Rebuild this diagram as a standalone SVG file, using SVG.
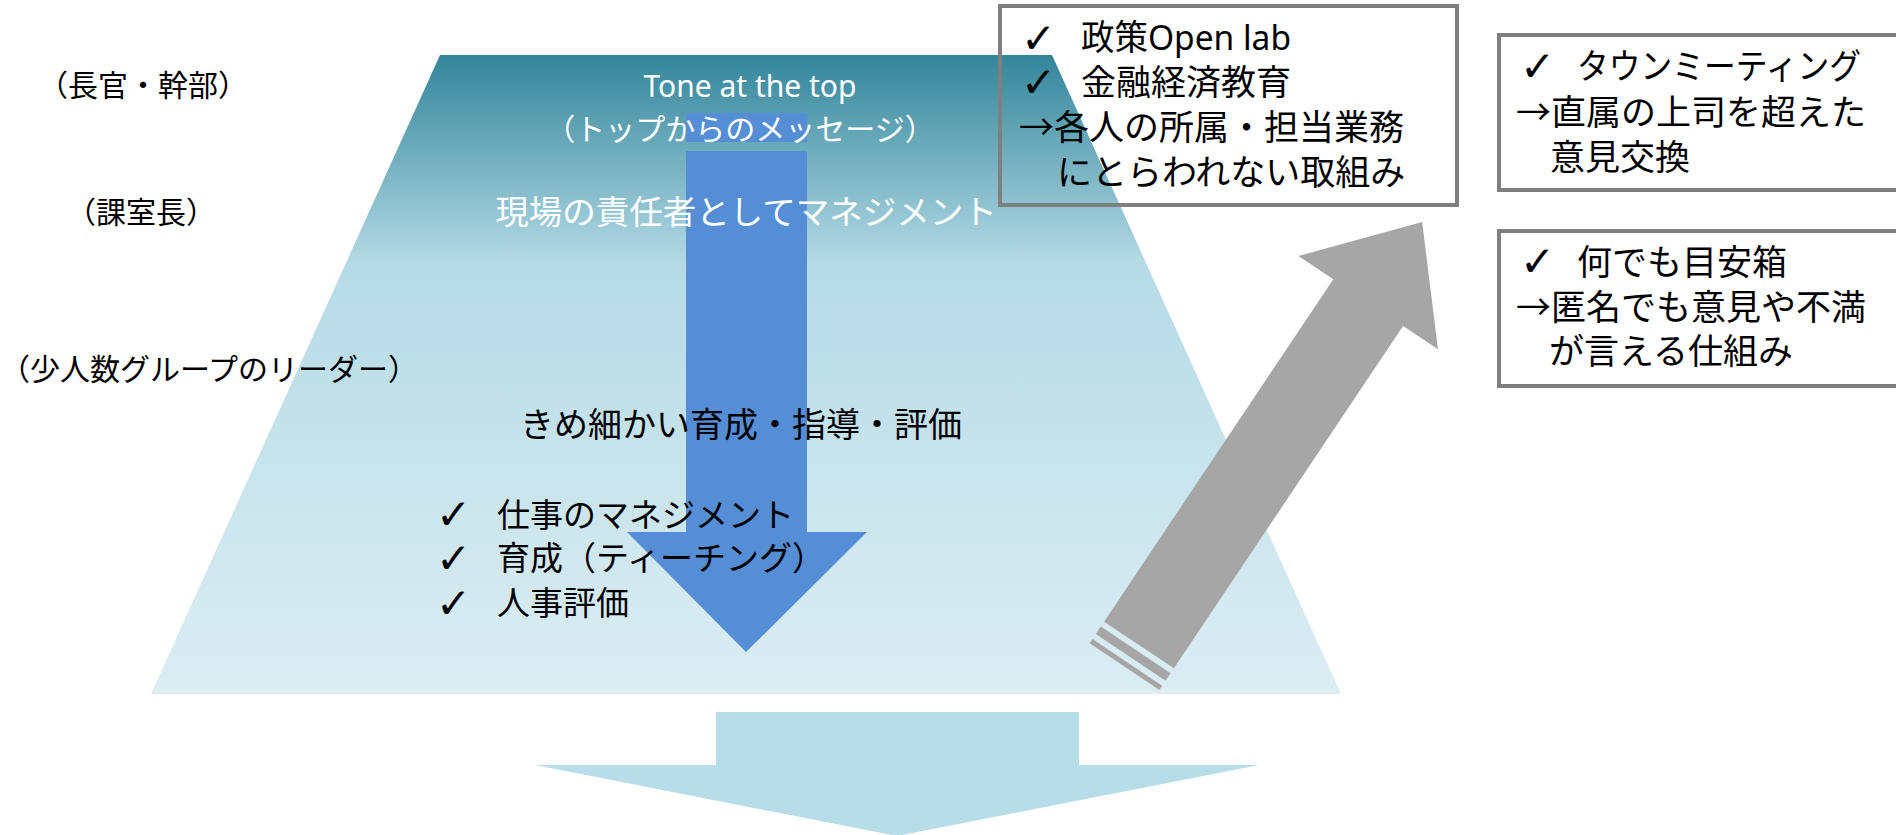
<svg xmlns="http://www.w3.org/2000/svg" width="1896" height="835" viewBox="0 0 1896 835">
<defs>
<linearGradient id="trapGrad" gradientUnits="userSpaceOnUse" x1="0" y1="55" x2="0" y2="694">
<stop offset="0" stop-color="#33859a"/>
<stop offset="0.33" stop-color="#b6dbe6"/>
<stop offset="1" stop-color="#dcedf3"/>
</linearGradient>
<style>
.t{font-family:"Noto Sans","Noto Sans CJK JP",sans-serif;}
.j{font-family:"Noto Sans CJK JP",sans-serif;}
.ck{font-family:"DejaVu Sans",sans-serif;font-size:42px;font-weight:bold;fill:#000;}
.lbl{font-size:30px;fill:#000;text-anchor:middle;}
.w{fill:#fff;text-anchor:middle;}
.bx{fill:none;stroke:#7f7f7f;stroke-width:4;}
.bt{font-size:35px;fill:#000;}
.ct{font-size:34px;fill:#000;}
.li{font-size:33px;fill:#000;}
</style>
</defs>
<rect width="1896" height="835" fill="#fff"/>

<g id="pyramid">
<polygon points="440,55 1052,55 1341,694 151,694" fill="url(#trapGrad)"/>
</g>

<g id="connectors">
<g id="down-arrow" fill="#558ed5">
<rect x="686" y="113" width="121" height="29"/>
<polygon points="686,151 807,151 807,532 867,532 746,652 627,532 686,532"/>
</g>
<g id="up-arrow" fill="#a6a6a6" transform="translate(1139,645) rotate(-56.2)">
<polygon points="0,-42 412,-42 412,-84 509,0 412,84 412,42 0,42"/>
<rect x="-15" y="-42" width="9" height="84"/>
<rect x="-26" y="-42" width="5" height="84"/>
</g>
<g id="bottom-arrow" fill="#b7dde8">
<polygon points="716,712 1079,712 1079,765 1259,765 897,836 535,765 716,765"/>
</g>
</g>

<g id="level-labels">
<text class="j lbl" x="143" y="96">（長官・幹部）</text>
<text class="j lbl" x="141" y="223">（課室長）</text>
<text class="j lbl" x="209" y="380">（少人数グループのリーダー）</text>
</g>

<g id="top-message">
<text class="t w" x="750" y="97" font-size="30">Tone at the top</text>
<text class="j w" x="740" y="140" font-size="30">（トップからのメッセージ）</text>
</g>

<g id="manager-message">
<text class="j w" x="746" y="224" font-size="33.5">現場の責任者としてマネジメント</text>
</g>

<g id="leader-message">
<text class="j ct" x="741" y="437" text-anchor="middle">きめ細かい育成・指導・評価</text>
<text class="ck" x="436" y="529">✓</text>
<text class="j li" x="497" y="527">仕事のマネジメント</text>
<text class="ck" x="436" y="573">✓</text>
<text class="j li" x="497" y="570">育成（ティーチング）</text>
<text class="ck" x="436" y="618">✓</text>
<text class="j li" x="497" y="615">人事評価</text>
</g>

<g id="box-openlab">
<rect class="bx" x="1000" y="6" width="457" height="199"/>
<text class="ck" x="1021" y="53">✓</text>
<text class="t bt" x="1081" y="50" textLength="210" lengthAdjust="spacingAndGlyphs">政策Open lab</text>
<text class="ck" x="1021" y="97">✓</text>
<text class="j bt" x="1081" y="95">金融経済教育</text>
<text class="j bt" x="1019" y="140">→各人の所属・担当業務</text>
<text class="j bt" x="1057" y="185">にとらわれない取組み</text>
</g>

<g id="box-townmeeting">
<rect class="bx" x="1499" y="35" width="400" height="155"/>
<text class="ck" x="1520" y="81">✓</text>
<text class="j bt" x="1577" y="79" textLength="284" lengthAdjust="spacingAndGlyphs">タウンミーティング</text>
<text class="j bt" x="1516" y="125">→直属の上司を超えた</text>
<text class="j bt" x="1550" y="170">意見交換</text>
</g>

<g id="box-suggestion">
<rect class="bx" x="1499" y="231" width="400" height="155"/>
<text class="ck" x="1520" y="276">✓</text>
<text class="j bt" x="1577" y="275">何でも目安箱</text>
<text class="j bt" x="1516" y="320">→匿名でも意見や不満</text>
<text class="j bt" x="1549" y="364">が言える仕組み</text>
</g>
</svg>
